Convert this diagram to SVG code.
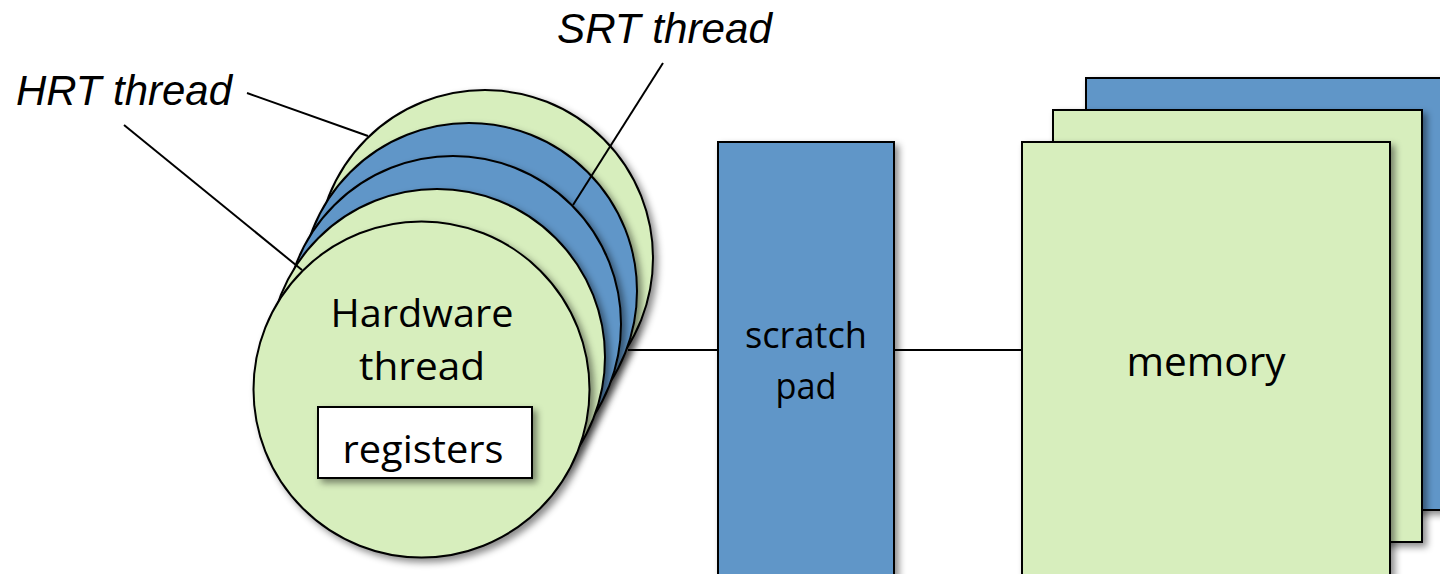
<svg xmlns="http://www.w3.org/2000/svg" width="1440" height="574" viewBox="0 0 1440 574">
<defs>
<filter id="sh" x="-20%" y="-20%" width="150%" height="150%">
<feDropShadow dx="4" dy="4" stdDeviation="3.5" flood-color="#000" flood-opacity="0.45"/>
</filter>
<style>
.g{fill:#d7eebd;stroke:#000;stroke-width:2;filter:url(#sh)}
.b{fill:#6096c8;stroke:#000;stroke-width:2;filter:url(#sh)}
.w{fill:#fff;stroke:#000;stroke-width:2;filter:url(#sh)}
.t{font-family:"Open Sans","Noto Sans",sans-serif;fill:#000;text-anchor:middle}
.lab{font-family:"Liberation Sans",Arial,sans-serif;font-style:italic;font-size:42px;fill:#000}
.ln{stroke:#000;stroke-width:2;fill:none}
</style>
</defs>
<rect width="1440" height="574" fill="#fff"/>
<g id="hw-threads">
<circle class="g" cx="485" cy="258" r="168"/>
<circle class="b" cx="469" cy="291" r="168"/>
<circle class="b" cx="453" cy="324" r="168"/>
<circle class="g" cx="437" cy="357" r="168"/>
<circle class="g" cx="421.5" cy="389.5" r="168"/>
<text class="t" x="422" y="327" font-size="39" textLength="183" lengthAdjust="spacingAndGlyphs">Hardware</text>
<text class="t" x="422" y="380" font-size="39" textLength="126" lengthAdjust="spacingAndGlyphs">thread</text>
</g>
<g id="registers">
<rect class="w" x="318" y="407" width="214" height="71"/>
<text class="t" x="423" y="463" font-size="39" textLength="161" lengthAdjust="spacingAndGlyphs">registers</text>
</g>
<g id="scratchpad">
<rect class="b" x="718" y="142" width="176" height="445"/>
<text class="t" x="806" y="348" font-size="36" textLength="122" lengthAdjust="spacingAndGlyphs">scratch</text>
<text class="t" x="806" y="399" font-size="36" textLength="61" lengthAdjust="spacingAndGlyphs">pad</text>
</g>
<g id="memory">
<rect class="b" x="1086" y="78" width="380" height="432"/>
<rect class="g" x="1053" y="110" width="369" height="432"/>
<rect class="g" x="1022" y="142" width="368" height="445"/>
<text class="t" x="1206" y="376" font-size="40" textLength="159" lengthAdjust="spacingAndGlyphs">memory</text>
</g>
<g id="labels">
<text class="lab" x="16" y="105" textLength="216" lengthAdjust="spacingAndGlyphs">HRT thread</text>
<text class="lab" x="557" y="43" textLength="215" lengthAdjust="spacingAndGlyphs">SRT thread</text>
</g>
<g id="connectors">
<line class="ln" x1="628" y1="350" x2="718" y2="350"/>
<line class="ln" x1="894" y1="350" x2="1022" y2="350"/>
<line class="ln" x1="247" y1="93" x2="368" y2="136"/>
<line class="ln" x1="124" y1="125" x2="302" y2="270"/>
<line class="ln" x1="663" y1="63" x2="573" y2="205"/>
</g>
</svg>
